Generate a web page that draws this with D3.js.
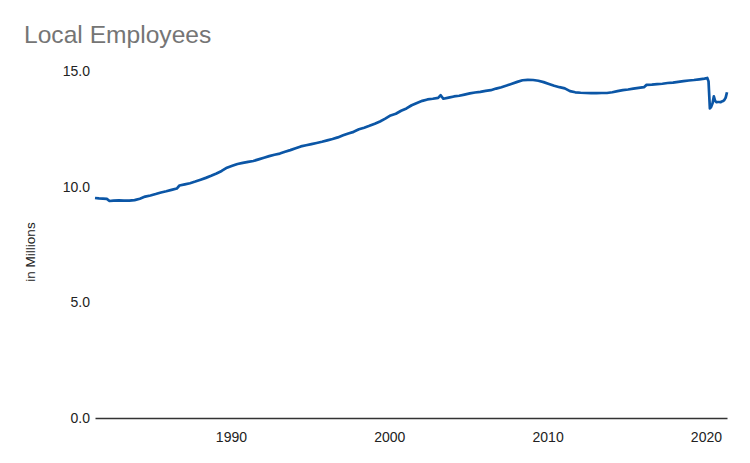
<!DOCTYPE html>
<html>
<head>
<meta charset="utf-8">
<script src="https://cdn.jsdelivr.net/npm/d3@7"></script>
<style>
  html, body { margin: 0; padding: 0; background: #fff; }
  svg { display: block; font-family: "Liberation Sans", Arial, sans-serif; }
</style>
</head>
<body>
<svg id="chart" width="750" height="463"></svg>
<script>
const title = "Local Employees";
const yAxisLabel = "in Millions";
const yTicks = [0, 5, 10, 15];
const xTickYears = [1990, 2000, 2010, 2020];

const months = [
  "1981-06","1981-09","1981-12","1982-03","1982-05","1982-08","1982-12","1983-04","1983-08","1983-12",
  "1984-04","1984-08","1984-12","1985-04","1985-08","1985-12","1986-04","1986-08","1986-10","1987-02",
  "1987-06","1987-10","1988-02","1988-06","1988-10","1989-02","1989-06","1989-10","1990-02","1990-06",
  "1990-10","1991-02","1991-06","1991-10","1992-02","1992-06","1992-10","1993-02","1993-06","1993-10",
  "1994-02","1994-06","1994-10","1995-02","1995-06","1995-10","1996-02","1996-06","1996-10","1997-02",
  "1997-06","1997-10","1998-02","1998-06","1998-10","1999-02","1999-06","1999-10","2000-02","2000-06",
  "2000-10","2001-02","2001-06","2001-10","2002-02","2002-06","2002-10","2003-02","2003-04","2003-06",
  "2003-10","2004-02","2004-06","2004-10","2005-02","2005-06","2005-10","2006-02","2006-06","2006-10",
  "2007-02","2007-06","2007-10","2008-02","2008-06","2008-10","2009-02","2009-06","2009-10","2010-02",
  "2010-06","2010-10","2011-02","2011-06","2011-10","2012-02","2012-06","2012-10","2013-02","2013-06",
  "2013-10","2014-02","2014-06","2014-10","2015-02","2015-06","2015-10","2016-02","2016-04","2016-08",
  "2016-12","2017-04","2017-08","2017-12","2018-04","2018-08","2018-12","2019-04","2019-08","2019-12",
  "2020-02","2020-03","2020-04","2020-05","2020-06","2020-07","2020-08","2020-09","2020-10","2020-11",
  "2020-12","2021-01","2021-02","2021-03","2021-04","2021-05"
];
const employees = [
  9.51,9.49,9.48,9.47,9.38,9.40,9.41,9.40,9.40,9.42,
  9.48,9.57,9.62,9.68,9.75,9.80,9.86,9.92,10.05,10.10,
  10.15,10.22,10.30,10.38,10.47,10.57,10.68,10.82,10.90,10.98,
  11.03,11.07,11.11,11.18,11.25,11.32,11.38,11.43,11.51,11.58,
  11.66,11.74,11.79,11.84,11.89,11.94,12.00,12.06,12.13,12.22,
  12.30,12.37,12.48,12.55,12.63,12.72,12.82,12.94,13.08,13.15,
  13.28,13.38,13.52,13.62,13.71,13.77,13.80,13.84,13.95,13.80,
  13.85,13.90,13.93,13.98,14.03,14.07,14.10,14.14,14.17,14.24,
  14.30,14.37,14.45,14.53,14.60,14.62,14.61,14.58,14.52,14.44,
  14.36,14.30,14.25,14.13,14.08,14.06,14.05,14.04,14.04,14.05,
  14.05,14.08,14.13,14.17,14.20,14.24,14.27,14.30,14.40,14.41,
  14.43,14.45,14.48,14.50,14.53,14.56,14.59,14.61,14.64,14.67,
  14.70,14.55,13.38,13.45,13.60,13.90,13.70,13.65,13.66,13.66,
  13.65,13.68,13.70,13.75,13.85,14.08
];

const parse = d3.timeParse("%Y-%m");
const data = months.map((m, i) => ({ date: parse(m), value: employees[i] }));

const svg = d3.select("#chart");
const mLeft = 95, mRight = 727, mTop = 71, mBottom = 418;

const x = d3.scaleTime()
  .domain(d3.extent(data, d => d.date))
  .range([mLeft, mRight]);
const y = d3.scaleLinear().domain([0, 15]).range([mBottom, mTop]);

// Title
svg.append("text")
  .attr("x", 24).attr("y", 43)
  .attr("font-size", 24.6)
  .attr("fill", "#757575")
  .text(title);

// Y axis label
svg.append("text")
  .attr("transform", `translate(35,252) rotate(-90)`)
  .attr("text-anchor", "middle")
  .attr("font-size", 13.5)
  .attr("fill", "#222")
  .text(yAxisLabel);

// Y axis ticks (labels only)
const yAxis = d3.axisLeft(y).tickValues(yTicks).tickFormat(d3.format(".1f")).tickSize(0).tickPadding(5);
const gy = svg.append("g").attr("transform", `translate(${mLeft},0)`).call(yAxis);
gy.select(".domain").remove();
gy.selectAll("text").attr("font-size", 14).attr("fill", "#222").attr("font-family", "Liberation Sans, Arial, sans-serif");

// X axis
const xAxis = d3.axisBottom(x)
  .tickValues(xTickYears.map(yr => new Date(yr, 0, 1)))
  .tickFormat(d3.timeFormat("%Y"))
  .tickSize(0).tickPadding(14);
const gx = svg.append("g").attr("transform", `translate(0,${mBottom})`).call(xAxis);
gx.select(".domain").attr("stroke", "#333").attr("stroke-width", 1.5);
gx.selectAll("text").attr("font-size", 14).attr("fill", "#222").attr("font-family", "Liberation Sans, Arial, sans-serif");

// Line
const line = d3.line().x(d => x(d.date)).y(d => y(d.value));
svg.append("path")
  .datum(data)
  .attr("fill", "none")
  .attr("stroke", "#0b56a6")
  .attr("stroke-width", 2.7)
  .attr("stroke-linejoin", "round")
  .attr("d", line);
</script>
</body>
</html>
